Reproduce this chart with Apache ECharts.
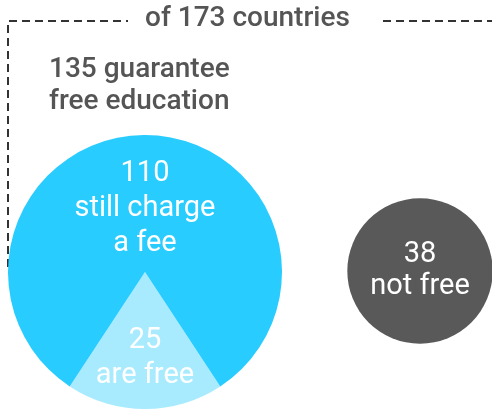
<!DOCTYPE html>
<html>
<head>
<meta charset="utf-8">
<script src="https://cdn.jsdelivr.net/npm/echarts@6/dist/echarts.min.js"></script>
<style>
  html, body { margin: 0; padding: 0; background: #fff; }
  #chart { width: 492px; height: 409px; }
</style>
</head>
<body>
<div id="chart"></div>
<script>
// totals
var totalCountries = 173
var guaranteeTotal = 135
// big circle split
var guaranteeNames = ['are free', 'still charge\na fee']
var guaranteeValues = [25, 110]
// small circle
var notFreeName = 'not free'
var notFreeValue = 38

var bigRadius = 137
// area proportional circle
var smallRadius = bigRadius * Math.sqrt(notFreeValue / guaranteeTotal)
// centre the 25 slice at the bottom
var sliceDeg = guaranteeValues[0] / guaranteeTotal * 360
var startAngle = -90 + sliceDeg / 2

var font = 'Roboto, "Noto Sans", sans-serif'

var chart = echarts.init(document.getElementById('chart'))
chart.setOption({
  animation: false,
  graphic: [
    {
      type: 'polyline',
      shape: { points: [[8, 267], [8, 21], [128, 21]] },
      style: { stroke: '#333', lineWidth: 2, lineDash: [8, 5], fill: null }
    },
    {
      type: 'line',
      shape: { x1: 383, y1: 21, x2: 492, y2: 21 },
      style: { stroke: '#333', lineWidth: 2, lineDash: [8, 5] }
    },
    {
      type: 'text',
      left: 145,
      top: 5,
      style: {
        text: 'of ' + totalCountries + ' countries',
        fill: '#555',
        font: '500 28px ' + font
      }
    },
    {
      type: 'text',
      left: 49,
      top: 54,
      style: {
        text: guaranteeTotal + ' guarantee\nfree education',
        fill: '#555',
        font: '500 28px ' + font,
        lineHeight: 32
      }
    }
  ],
  series: [
    {
      type: 'pie',
      center: [145, 272],
      radius: [0, bigRadius],
      startAngle: startAngle,
      clockwise: true,
      silent: true,
      labelLine: { show: false },
      label: {
        show: true,
        position: 'inside',
        color: '#fff',
        fontFamily: 'Roboto',
        fontSize: 29,
        lineHeight: 35,
        formatter: function (p) { return p.value + '\n' + p.name }
      },
      labelLayout: function (p) {
        return p.dataIndex === 0 ? { dy: 15 } : { dy: 8 }
      },
      data: [
        { value: guaranteeValues[0], name: guaranteeNames[0], itemStyle: { color: '#a8ebff' } },
        { value: guaranteeValues[1], name: guaranteeNames[1], itemStyle: { color: '#29ccff' } }
      ]
    },
    {
      type: 'pie',
      center: [420, 271],
      radius: [0, smallRadius],
      silent: true,
      labelLine: { show: false },
      label: {
        show: true,
        position: 'center',
        color: '#fff',
        fontFamily: 'Roboto',
        fontSize: 29,
        lineHeight: 32,
        formatter: function (p) { return p.value + '\n' + p.name }
      },
      data: [
        { value: notFreeValue, name: notFreeName, itemStyle: { color: '#595959' } }
      ]
    }
  ]
})
</script>
</body>
</html>
